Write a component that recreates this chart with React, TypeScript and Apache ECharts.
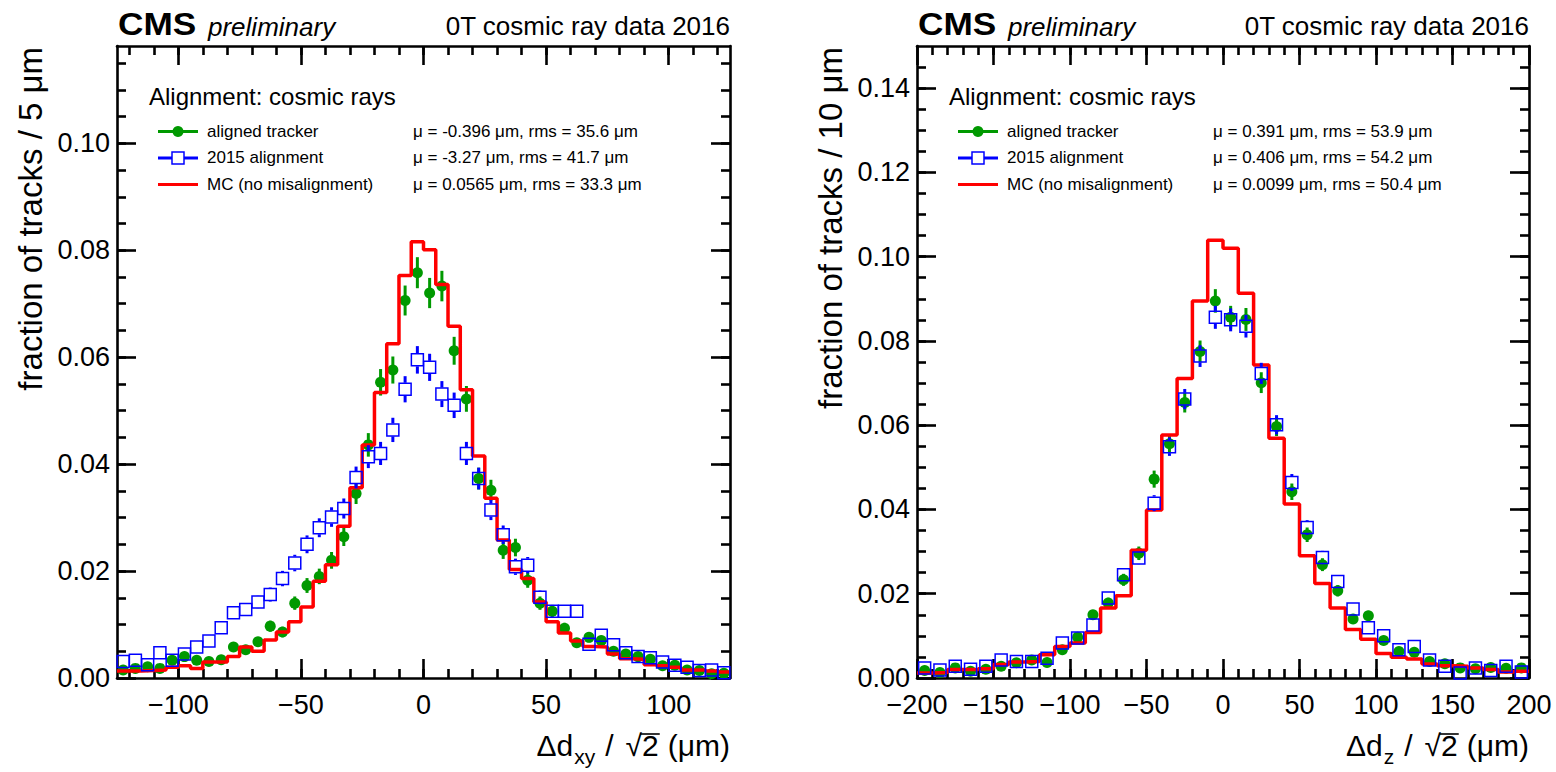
import { useEffect, useRef } from 'react';
import * as echarts from 'echarts';

const FONT = '"Liberation Sans", Arial, Helvetica, sans-serif';
const GREEN = '#009900';
const BLUE = '#0000ff';
const RED = '#ff0000';

// ---------- Left panel: Δd_xy / √2, 5 μm bins from -125 to 125 μm ----------
const xyBinLow = -125;
const xyBinWidth = 5;
const xyAligned = [
  0.0015, 0.0018, 0.0021, 0.0018, 0.0033, 0.0040, 0.0033, 0.0031, 0.0034, 0.0058,
  0.0053, 0.0068, 0.0097, 0.0086, 0.0140, 0.0173, 0.0190, 0.0220, 0.0264, 0.0345,
  0.0436, 0.0553, 0.0576, 0.0706, 0.0758, 0.0720, 0.0733, 0.0612, 0.0522, 0.0373,
  0.0351, 0.0239, 0.0244, 0.0183, 0.0140, 0.0125, 0.0093, 0.0066, 0.0076, 0.0070,
  0.0050, 0.0045, 0.0040, 0.0035, 0.0023, 0.0024, 0.0015, 0.0014, 0.0008, 0.0009,
];
const xy2015 = [
  0.0031, 0.0033, 0.0025, 0.0047, 0.0033, 0.0045, 0.0058, 0.0069, 0.0094, 0.0122,
  0.0128, 0.0142, 0.0156, 0.0186, 0.0215, 0.0250, 0.0281, 0.0301, 0.0317, 0.0375,
  0.0414, 0.0420, 0.0464, 0.0540, 0.0595, 0.0581, 0.0531, 0.0510, 0.0420, 0.0373,
  0.0314, 0.0268, 0.0208, 0.0211, 0.0151, 0.0125, 0.0125, 0.0125, 0.0063, 0.0080,
  0.0062, 0.0047, 0.0040, 0.0038, 0.0030, 0.0024, 0.0020, 0.0014, 0.0015, 0.0010,
];
const xyMC = [
  0.0013, 0.0013, 0.0014, 0.0015, 0.0020, 0.0023, 0.0018, 0.0030, 0.0030, 0.0040,
  0.0058, 0.0050, 0.0071, 0.0086, 0.0105, 0.0133, 0.0181, 0.0212, 0.0284, 0.0356,
  0.0436, 0.0534, 0.0625, 0.0753, 0.0816, 0.0801, 0.0736, 0.0658, 0.0539, 0.0415,
  0.0336, 0.0258, 0.0203, 0.0186, 0.0142, 0.0105, 0.0084, 0.0069, 0.0059, 0.0058,
  0.0045, 0.0036, 0.0035, 0.0025, 0.0023, 0.0020, 0.0015, 0.0015, 0.0013, 0.0011,
];
const xyStats = [
  'μ = -0.396 μm, rms = 35.6 μm',
  'μ = -3.27 μm, rms = 41.7 μm',
  'μ = 0.0565 μm, rms = 33.3 μm',
];
const xyXMajor = [-100, -50, 0, 50, 100];
const xyYMajor = [0, 0.02, 0.04, 0.06, 0.08, 0.1];

// ---------- Right panel: Δd_z / √2, 10 μm bins from -200 to 200 μm ----------
const zBinLow = -200;
const zBinWidth = 10;
const zAligned = [
  0.0018, 0.0013, 0.0024, 0.0016, 0.0021, 0.0028, 0.0036, 0.0043, 0.0037, 0.0067,
  0.0097, 0.0150, 0.0178, 0.0233, 0.0296, 0.0472, 0.0556, 0.0654, 0.0775, 0.0895,
  0.0856, 0.0851, 0.0701, 0.0597, 0.0442, 0.0340, 0.0269, 0.0207, 0.0140, 0.0148,
  0.0089, 0.0063, 0.0061, 0.0039, 0.0034, 0.0024, 0.0022, 0.0025, 0.0023, 0.0024,
];
const z2015 = [
  0.0024, 0.0019, 0.0028, 0.0021, 0.0028, 0.0043, 0.0039, 0.0039, 0.0047, 0.0083,
  0.0095, 0.0126, 0.0190, 0.0245, 0.0285, 0.0415, 0.0549, 0.0662, 0.0764, 0.0856,
  0.0850, 0.0835, 0.0723, 0.0601, 0.0464, 0.0357, 0.0286, 0.0229, 0.0164, 0.0119,
  0.0100, 0.0067, 0.0075, 0.0043, 0.0028, 0.0012, 0.0024, 0.0018, 0.0028, 0.0014,
];
const zMC = [
  0.0012, 0.0013, 0.0020, 0.0020, 0.0022, 0.0032, 0.0038, 0.0039, 0.0055, 0.0075,
  0.0083, 0.0108, 0.0166, 0.0195, 0.0303, 0.0399, 0.0577, 0.0711, 0.0895, 0.1039,
  0.1020, 0.0913, 0.0743, 0.0569, 0.0413, 0.0290, 0.0224, 0.0166, 0.0115, 0.0092,
  0.0058, 0.0049, 0.0045, 0.0033, 0.0029, 0.0028, 0.0024, 0.0020, 0.0014, 0.0016,
];
const zStats = [
  'μ = 0.391 μm, rms = 53.9 μm',
  'μ = 0.406 μm, rms = 54.2 μm',
  'μ = 0.0099 μm, rms = 50.4 μm',
];
const zXMajor = [-200, -150, -100, -50, 0, 50, 100, 150, 200];
const zYMajor = [0, 0.02, 0.04, 0.06, 0.08, 0.1, 0.12, 0.14];

// ---------- shared texts ----------
const legendTitle = 'Alignment: cosmic rays';
const legendNames = ['aligned tracker', '2015 alignment', 'MC (no misalignment)'];
const cmsText = 'CMS';
const prelimText = 'preliminary';
const dataText = '0T cosmic ray data 2016';

function ticksBetween(a: number, b: number, step: number) {
  const out: number[] = [];
  for (let k = 0; a + k * step <= b + 1e-9; k++) out.push(+(a + k * step).toFixed(4));
  return out;
}

const PANELS = [
  {
    left: 117, width: 613, xMin: -125, xMax: 125, yMax: 0.1182,
    binLow: xyBinLow, binWidth: xyBinWidth,
    aligned: xyAligned, a2015: xy2015, mc: xyMC, nTracks: 9000,
    xMajor: xyXMajor, xMinor: ticksBetween(-120, 120, 10),
    yMajor: xyYMajor, yMinor: ticksBetween(0.005, 0.115, 0.005),
    stats: xyStats, yTitle: 'fraction of tracks / 5 μm', xSub: 'xy',
  },
  {
    left: 917, width: 612, xMin: -200, xMax: 200, yMax: 0.15,
    binLow: zBinLow, binWidth: zBinWidth,
    aligned: zAligned, a2015: z2015, mc: zMC, nTracks: 11500,
    xMajor: zXMajor, xMinor: ticksBetween(-190, 190, 10),
    yMajor: zYMajor, yMinor: ticksBetween(0.005, 0.145, 0.005),
    stats: zStats, yTitle: 'fraction of tracks / 10 μm', xSub: 'z',
  },
];

const GRID_TOP = 46;
const GRID_H = 632;

function buildOption() {
  const ctx = document.createElement('canvas').getContext('2d')!;
  const measure = (s: string, size: number, extra = '') => {
    ctx.font = `${extra} ${size}px ${FONT}`.trim();
    return ctx.measureText(s).width;
  };

  const grid: any[] = [];
  const xAxis: any[] = [];
  const yAxis: any[] = [];
  const series: any[] = [];
  const graphic: any[] = [];

  const fmtX = (v: number) => (v < 0 ? '\u2212' + Math.abs(v) : String(v));
  const fmtY = (v: number) => v.toFixed(2);

  PANELS.forEach((p, i) => {
    grid.push({ left: p.left, top: GRID_TOP, width: p.width, height: GRID_H });
    const line = { show: true, onZero: false, lineStyle: { color: '#000', width: 2.6 } };
    const noLine = { show: false, onZero: false };
    const tick = (vals: number[], len: number) => ({
      show: true, inside: true, length: len, customValues: vals,
      lineStyle: { color: '#000', width: 2.6 },
    });
    const xb = { type: 'value', gridIndex: i, min: p.xMin, max: p.xMax, splitLine: { show: false } };
    const yb = { type: 'value', gridIndex: i, min: 0, max: p.yMax, splitLine: { show: false } };
    xAxis.push({
      ...xb, position: 'bottom', axisLine: line, axisTick: tick(p.xMajor, 19),
      axisLabel: { show: true, customValues: p.xMajor, formatter: fmtX, fontSize: 27, fontFamily: FONT, color: '#000', margin: 13 },
    });
    xAxis.push({ ...xb, position: 'bottom', axisLine: noLine, axisTick: tick(p.xMinor, 9), axisLabel: { show: false } });
    xAxis.push({ ...xb, position: 'top', axisLine: line, axisTick: tick(p.xMajor, 19), axisLabel: { show: false } });
    xAxis.push({ ...xb, position: 'top', axisLine: noLine, axisTick: tick(p.xMinor, 9), axisLabel: { show: false } });
    yAxis.push({
      ...yb, position: 'left', axisLine: line, axisTick: tick(p.yMajor, 19),
      axisLabel: { show: true, customValues: p.yMajor, formatter: fmtY, fontSize: 27, fontFamily: FONT, color: '#000', margin: 7 },
    });
    yAxis.push({ ...yb, position: 'left', axisLine: noLine, axisTick: tick(p.yMinor, 9), axisLabel: { show: false } });
    yAxis.push({ ...yb, position: 'right', axisLine: line, axisTick: tick(p.yMajor, 19), axisLabel: { show: false } });
    yAxis.push({ ...yb, position: 'right', axisLine: noLine, axisTick: tick(p.yMinor, 9), axisLabel: { show: false } });

    const ax = { xAxisIndex: 4 * i, yAxisIndex: 4 * i };
    const centers = p.aligned.map((_, k) => p.binLow + (k + 0.5) * p.binWidth);

    // MC histogram outline
    const mcPts: number[][] = [];
    p.mc.forEach((v, k) => {
      mcPts.push([p.binLow + k * p.binWidth, v]);
      mcPts.push([p.binLow + (k + 1) * p.binWidth, v]);
    });

    const errSeries = (vals: number[], color: string, gap: number, z: number) => ({
      type: 'custom', ...ax, z, silent: true, clip: false,
      encode: { x: 0, y: 1 },
      data: vals.map((v, k) => [centers[k], v, Math.sqrt(v / p.nTracks)]),
      renderItem: (_params: any, api: any) => {
        const x = api.value(0), v = api.value(1), e = api.value(2);
        const c = api.coord([x, v]);
        const t = api.coord([x, v + e]);
        const b = api.coord([x, Math.max(0, v - e)]);
        const children: any[] = [];
        if (c[1] - gap > t[1]) children.push({ type: 'line', shape: { x1: c[0], y1: t[1], x2: c[0], y2: c[1] - gap }, style: { stroke: color, lineWidth: 3 } });
        if (b[1] > c[1] + gap) children.push({ type: 'line', shape: { x1: c[0], y1: c[1] + gap, x2: c[0], y2: b[1] }, style: { stroke: color, lineWidth: 3 } });
        return { type: 'group', children };
      },
    });

    series.push(errSeries(p.aligned, GREEN, 0, 2));
    series.push({
      type: 'scatter', ...ax, z: 3, symbol: 'circle', symbolSize: 11,
      itemStyle: { color: GREEN, opacity: 1 },
      data: p.aligned.map((v, k) => [centers[k], v]),
    });
    series.push({
      type: 'line', ...ax, z: 4, symbol: 'none', showSymbol: false,
      lineStyle: { color: RED, width: 3.5 }, data: mcPts,
    });
    series.push(errSeries(p.a2015, BLUE, 6.5, 5));
    series.push({
      type: 'scatter', ...ax, z: 6, symbol: 'rect', symbolSize: 12,
      itemStyle: { color: 'rgba(0,0,0,0)', borderColor: BLUE, borderWidth: 1.5, opacity: 1 },
      data: p.a2015.map((v, k) => [centers[k], v]),
    });

    // ---- header texts ----
    const right = p.left + p.width;
    graphic.push({
      type: 'text', x: p.left + 1, y: 35 - 0.3465 * 32, scaleX: 1.1, z: 100,
      style: { text: cmsText, fontSize: 32, fontWeight: 'bold', fontFamily: FONT, fill: '#000', align: 'left', verticalAlign: 'middle' },
    });
    graphic.push({
      type: 'text', x: p.left + 91, y: 36 - 0.3465 * 26, z: 100,
      style: { text: prelimText, fontSize: 26, fontStyle: 'italic', fontFamily: FONT, fill: '#000', align: 'left', verticalAlign: 'middle' },
    });
    graphic.push({
      type: 'text', x: right, y: 35 - 0.3465 * 26, z: 100,
      style: { text: dataText, fontSize: 26, fontFamily: FONT, fill: '#000', align: 'right', verticalAlign: 'middle' },
    });

    // ---- legend ----
    graphic.push({
      type: 'text', x: p.left + 32, y: 105 - 0.3465 * 24, z: 100,
      style: { text: legendTitle, fontSize: 24, fontFamily: FONT, fill: '#000', align: 'left', verticalAlign: 'middle' },
    });
    const rowY = [131.5, 158, 184.5];
    const colors = [GREEN, BLUE, RED];
    rowY.forEach((y, r) => {
      graphic.push({ type: 'line', z: 100, shape: { x1: p.left + 41, y1: y, x2: p.left + 81, y2: y }, style: { stroke: colors[r], lineWidth: 3 } });
      if (r === 0) graphic.push({ type: 'circle', z: 101, shape: { cx: p.left + 61, cy: y, r: 5.5 }, style: { fill: GREEN } });
      if (r === 1) graphic.push({ type: 'rect', z: 101, shape: { x: p.left + 55, y: y - 6, width: 12, height: 12 }, style: { fill: '#fff', stroke: BLUE, lineWidth: 1.5 } });
      graphic.push({
        type: 'text', x: p.left + 90, y: y - 0.3, z: 100,
        style: { text: legendNames[r], fontSize: 17, fontFamily: FONT, fill: '#000', align: 'left', verticalAlign: 'middle' },
      });
      graphic.push({
        type: 'text', x: p.left + 296, y: y - 0.3, z: 100,
        style: { text: p.stats[r], fontSize: 17, fontFamily: FONT, fill: '#000', align: 'left', verticalAlign: 'middle' },
      });
    });

    // ---- y title ----
    graphic.push({
      type: 'text', x: p.left - 87, y: 47, rotation: Math.PI / 2, z: 100,
      style: { text: p.yTitle, fontSize: 33, fontFamily: FONT, fill: '#000', align: 'right', verticalAlign: 'middle' },
    });

    // ---- x title: Δd_sub / √2 (μm) ----
    const BASE = 756;
    const parts = [
      { t: 'Δd', s: 30, dy: 0, gapAfter: 1 },
      { t: p.xSub, s: 21, dy: 8, gapAfter: 10 },
      { t: '/', s: 30, dy: 0, gapAfter: 12 },
      { t: '√', s: 30, dy: 0, gapAfter: 0 },
      { t: '2', s: 30, dy: 0, gapAfter: 9, bar: true },
      { t: '(μm)', s: 30, dy: 0, gapAfter: 0 },
    ];
    const widths = parts.map((q) => measure(q.t, q.s));
    const total = widths.reduce((a, w, k) => a + w + parts[k].gapAfter, 0);
    let cx = right - total;
    parts.forEach((q, k) => {
      graphic.push({
        type: 'text', x: cx, y: BASE + q.dy - 0.3465 * q.s, z: 100,
        style: { text: q.t, fontSize: q.s, fontFamily: FONT, fill: '#000', align: 'left', verticalAlign: 'middle' },
      });
      if ((q as any).bar) {
        graphic.push({ type: 'line', z: 100, shape: { x1: cx - 2, y1: BASE - 22, x2: cx + widths[k] + 1, y2: BASE - 22 }, style: { stroke: '#000', lineWidth: 1.6 } });
      }
      cx += widths[k] + q.gapAfter;
    });
  });

  return {
    animation: false,
    backgroundColor: '#fff',
    grid, xAxis, yAxis, series, graphic,
  };
}

export default function App() {
  const ref = useRef<HTMLDivElement>(null);
  useEffect(() => {
    if (!ref.current) return;
    const chart = echarts.init(ref.current, null, { renderer: 'svg', width: 1556, height: 772 });
    chart.setOption(buildOption() as any);
    return () => chart.dispose();
  }, []);
  return (
    <div
      ref={ref}
      style={{ position: 'absolute', left: 0, top: 0, width: 1556, height: 772, background: '#fff' }}
    />
  );
}
